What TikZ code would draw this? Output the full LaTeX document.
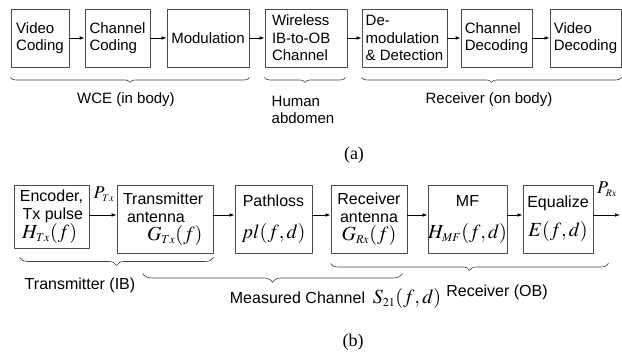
\documentclass[tikz,border=0pt]{standalone}
\usepackage{mathptmx}
\usepackage{fontspec}
\setmainfont{Liberation Serif}
\setsansfont{Liberation Sans}
\usetikzlibrary{arrows.meta, positioning, calc, decorations.pathreplacing}

\DeclareMathSizes{20}{20}{12}{10}
\DeclareMathSizes{18}{18}{10}{8}
\newcommand{\mathlbl}[1]{{\fontsize{20}{22}\selectfont$#1$}}
\newcommand{\powlbl}[1]{{\fontsize{18}{20}\selectfont$#1$}}

\begin{document}
\begin{tikzpicture}[x=1pt, y=-1pt, line join=round,
    blk/.style={draw=black!70, line width=0.9pt, inner sep=0pt, align=left},
    toptxt/.style={font=\sffamily\fontsize{15}{17.5}\selectfont},
    bottxt/.style={font=\sffamily\fontsize{16}{18}\selectfont},
    arr/.style={-{Latex[length=5pt,width=3.6pt]}, line width=0.7pt},
    brc/.style={decorate, decoration={brace, mirror, amplitude=#1}, draw=black!75, line width=0.6pt}]
        \useasboundingbox (0,0) rectangle (622,359);
        % (a) WCE chain
        \node[blk, toptxt, minimum width=58pt, minimum height=58pt] (vcod) at (40,38) {Video\\Coding};
        \node[blk, toptxt, minimum width=65pt, minimum height=58pt] (ccod) at (117.5,38) {Channel\\Coding};
        \node[blk, toptxt, minimum width=82pt, minimum height=58pt] (modu) at (208,38) {Modulation};
        \node[blk, toptxt, text width=68pt, minimum width=82pt, minimum height=58pt] (wire) at (306,38) {Wireless\\IB-to-OB\\Channel};
        \node[blk, toptxt, minimum width=85pt, minimum height=58pt] (dmod) at (404.5,38) {De-\\modulation\\\& Detection};
        \node[blk, toptxt, minimum width=71pt, minimum height=58pt] (cdec) at (496.5,38) {Channel\\Decoding};
        \node[blk, toptxt, minimum width=71pt, minimum height=58pt] (vdec) at (585.5,38) {Video\\Decoding};
        \foreach \a/\b in {vcod/ccod, ccod/modu, modu/wire, wire/dmod, dmod/cdec, cdec/vdec} {
            \draw[arr] (\a) -- (\b);
        }
        \draw[brc=5pt] ([yshift=-10pt]vcod.south west) -- ([yshift=-10pt]modu.south east);
        \draw[brc=5pt] ([yshift=-10pt]wire.south west) -- ([shift={(-2pt,-10pt)}]wire.south east);
        \draw[brc=5pt] ([yshift=-10pt]dmod.south west) -- ([yshift=-10pt]vdec.south east);
        \node[toptxt] (lwce) at (126,100) {WCE (in body)};
        \node[toptxt, align=left] (lhum) at (303,110) {Human\\abdomen};
        \node[toptxt] (lrob) at (489,100) {Receiver (on body)};
        \node[font=\fontsize{18}{20}\selectfont] (capa) at (354,155) {(a)};
        % (b) link budget chain
        \coordinate (axb) at (0,215);
        \node[blk, bottxt, align=right, minimum width=75pt, minimum height=63pt] (enc) at (51.5,216.5) {Encoder,\\Tx pulse\\\mathlbl{H_{Tx}(f)}\hspace*{6pt}};
        \node[blk, bottxt, text width=84pt, minimum width=96pt, minimum height=68pt] (txa) at (165,219) {Transmitter\\\hspace*{4pt}antenna\\\hspace*{24pt}\mathlbl{G_{Tx}(f)}};
        \node[blk, bottxt, align=center, minimum width=77pt, minimum height=68pt] (plo) at (273.5,219) {Pathloss\\[14pt]\mathlbl{pl(f,d)}};
        \node[blk, bottxt, align=center, minimum width=76pt, minimum height=68pt] (rxa) at (369,219) {Receiver\\antenna\\\mathlbl{G_{Rx}(f)}};
        \node[blk, bottxt, align=center, minimum width=79pt, minimum height=68pt] (mfl) at (467.5,219) {MF\\[14pt]\mathlbl{H_{MF}(f,d)}};
        \node[blk, bottxt, align=center, minimum width=70pt, minimum height=68pt] (eqz) at (558,219) {Equalize\\[10pt]\mathlbl{E(f,d)}};
        \coordinate (out) at (620,215);
        \foreach \a/\b in {enc/txa, txa/plo, plo/rxa, rxa/mfl, mfl/eqz} {
            \draw[arr] (\a.east |- axb) -- (\b.west |- axb);
        }
        \draw[arr] (eqz.east |- axb) -- (out);
        \node[inner sep=0pt] (ptx) at (104,194) {\powlbl{P_{Tx}}};
        \node[inner sep=0pt] (prx) at (607,189) {\powlbl{P_{Rx}}};
        \draw[brc=8pt] ([shift={(6pt,-9pt)}]enc.south west) -- ([yshift=-4pt]txa.south east);
        \draw[brc=9pt] ([shift={(26pt,-20pt)}]txa.south west) -- ([shift={(-5pt,-20pt)}]rxa.south east);
        \draw[brc=7pt] ([yshift=-10pt]rxa.south west) -- ([shift={(15pt,-10pt)}]eqz.south east);
        \node[bottxt] (ltib) at (80,285) {Transmitter (IB)};
        \node[bottxt] (lmch) at (297.5,298) {Measured Channel};
        \node (ls21) at (407,298) {\mathlbl{S_{21}(f,d)}};
        \node[bottxt] (lrob2) at (497,292) {Receiver (OB)};
        \node[font=\fontsize{18}{20}\selectfont] (capb) at (353,342) {(b)};
    \end{tikzpicture}
\end{document}
